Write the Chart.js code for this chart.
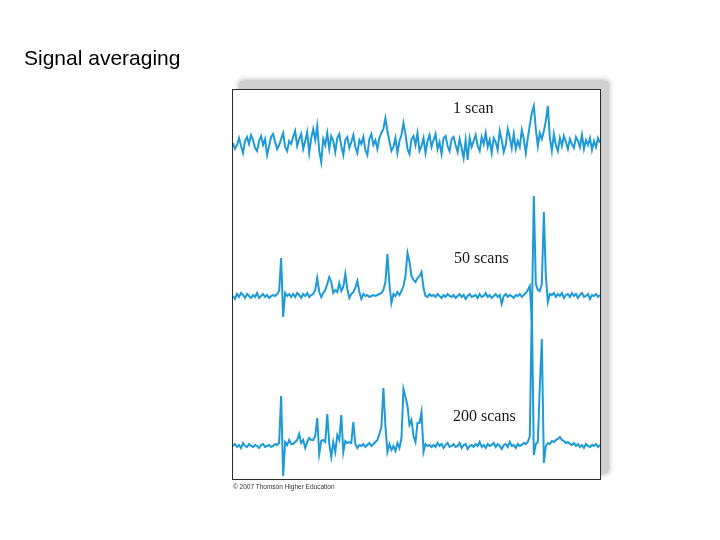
<!DOCTYPE html>
<html>
<head>
<meta charset="utf-8">
<script src="https://cdn.jsdelivr.net/npm/chart.js@4"></script>
<style>
  body { margin: 0; background: #fff; }
  #wrap { position: relative; width: 720px; height: 540px; }
  #c { position: absolute; left: 0; top: 0; }
  .txt { position: absolute; white-space: nowrap; line-height: 1; }
  .title { left: 24px; top: 46px; font: 21px "Liberation Sans", Arial, sans-serif; color: #000; }
  .scan { font: 16px "Liberation Serif", "Times New Roman", serif; color: #1a1a1a; }
  .copy { left: 233px; top: 483px; font: 6.5px "Liberation Sans", Arial, sans-serif; color: #333; }
</style>
</head>
<body>
<div id="wrap">
  <canvas id="c" width="720" height="540"></canvas>
  <div class="txt title">Signal averaging</div>
  <div class="txt scan" style="left:453px; top:99px;">1 scan</div>
  <div class="txt scan" style="left:454px; top:249px;">50 scans</div>
  <div class="txt scan" style="left:453px; top:407px;">200 scans</div>
  <div class="txt copy">© 2007 Thomson Higher Education</div>
</div>
<script>
// signal height above baseline, one value per channel ---------------------
const scan1 = [
  0, -6, -2, 5, -3, -10, 2, 6, -1, 8,
  3, -5, -8, 2, 7, -2, 4, -12, -3, 6,
  9, 1, -6, -2, 4, 10, -4, -8, 2, -1,
  6, 12, -3, 4, 9, -6, 2, 11, -10, 5,
  14, 3, 17, -8, -19, 4, -2, 10, -6, 7,
  2, -9, 5, 9, -3, -12, 3, 6, -5, 1,
  8, -4, -10, 3, -1, 6, -7, -12, 4, 9,
  -2, 3, -6, 5, 10, 14, 25, 12, 2, -8,
  -4, 5, -10, 2, 8, 20, 9, -6, -11, 4,
  7, -2, 10, -8, -3, 5, -10, 2, 8, -4,
  3, 9, -6, 1, -11, 5, 7, -3, -8, 4,
  6, -2, -9, 4, -5, -15, 3, -17, 5, -4,
  2, 8, -3, -8, 6, -1, 10, -4, 3, -10,
  5, 1, -7, 12, 3, -9, -2, 14, 6, -5,
  9, -6, 2, -4, 13, 4, -10, 5, 18, 30,
  37, 14, -3, 10, 4, 12, 22, 37, 5, -8,
  9, -2, -8, 5, -3, 7, 1, -6, 4, -1,
  -5, 6, 2, -4, 8, -6, 3, -2, 5, -7,
  2, -4, 5, 0
];

const scan50 = [
  0, -3, 2, -1, 3, 1, -2, 2, 0, -2,
  1, -1, 3, -2, 0, 2, -1, 1, -2, 0,
  1, 0, 2, 5, 38, -21, 3, 0, 2, -1,
  2, -1, 3, 1, -2, 2, 0, 3, -1, 1,
  2, 6, 18, 4, -1, 3, 6, 12, 19, 14,
  3, 6, 4, 13, 5, 9, 22, 7, -2, 2,
  4, 8, 15, 4, -3, 2, 0, 1, -1, 0,
  1, 0, 1, 2, 3, 6, 14, 42, 12, -7,
  2, 0, 4, 1, 5, 10, 20, 43, 34, 20,
  16, 14, 18, 20, 24, 8, 0, -1, 2, 0,
  1, -1, 2, 0, -2, 1, -1, 2, 0, -1,
  1, -2, 0, 2, -1, 1, -3, 0, 2, -1,
  0, 1, -2, 2, -1, 0, 3, -1, 1, -2,
  0, 2, -1, 1, -8, 0, 2, -1, 1, 0,
  -2, 1, 0, 2, -1, 1, 3, 6, 10, -25,
  100, 12, 6, 5, 12, 84, 20, -6, 2, 1,
  3, -1, 2, 0, 3, -2, 1, 2, -1, 3,
  0, 2, -2, 1, 3, -1, 0, 2, -3, 1,
  0, 2, -1, 1
];

const scan200 = [
  0, 2, -1, 1, -2, 3, 0, -1, 2, 0,
  -1, 1, 0, -2, 1, 2, -1, 0, 1, -1,
  0, 2, 1, 3, 50, -30, 4, 1, 6, 2,
  2, 4, 6, 12, 3, 6, -2, 4, 8, 6,
  6, 10, 28, -8, 5, 6, 4, 32, 2, -11,
  4, -6, 11, 6, 31, -6, 5, 3, 4, 3,
  24, 2, -2, 1, 0, 2, -1, 1, 3, 0,
  2, 4, 6, 12, 19, 58, 20, -6, 2, -4,
  0, -5, 3, -2, 8, 57, 49, 40, 21, 26,
  10, 4, 23, 23, 34, -6, 2, 0, 1, -1,
  1, -1, 3, 0, 2, -2, 1, 3, -1, 0,
  2, -1, 0, 3, -2, 1, 2, -3, 0, 1,
  -1, 2, 0, 4, -1, 1, -2, 2, 0, 1,
  3, -1, 2, 0, -3, 1, 2, -1, 4, 0,
  1, -2, 2, 0, 1, 3, 2, 4, 10, 139,
  -9, 2, 4, 60, 107, -17, 0, 3, 2, 5,
  4, 6, 7, 9, 6, 5, 3, 4, 2, 1,
  3, 0, 2, -1, 1, -2, 2, 0, -1, 1,
  0, 2, -1, 1
];

const channels = scan1.map((v, i) => i);
const traceColor = "#1e9ad6";

// box with drop shadow behind the plot -----------------------------------
const frame = {
  id: "frame",
  beforeDraw(chart) {
    const ctx = chart.ctx;
    const a = chart.chartArea;
    ctx.save();
    ctx.fillStyle = "#cfcfcf";
    ctx.shadowColor = "rgba(0,0,0,0.45)";
    ctx.shadowBlur = 6;
    ctx.fillRect(a.left + 7, a.top - 8, a.right - a.left + 1, a.bottom - a.top + 1);
    ctx.restore();
    ctx.save();
    ctx.fillStyle = "#fff";
    ctx.fillRect(a.left - 1, a.top, a.right - a.left + 2, a.bottom - a.top);
    ctx.restore();
  },
  afterDraw(chart) {
    const ctx = chart.ctx;
    const a = chart.chartArea;
    ctx.save();
    ctx.strokeStyle = "#2b2b2b";
    ctx.lineWidth = 1;
    ctx.strokeRect(a.left - 0.5, a.top + 0.5, a.right - a.left + 1, a.bottom - a.top - 1);
    ctx.restore();
  },
};

function trace(label, data, axis) {
  return {
    label: label,
    data: data,
    yAxisID: axis,
    borderColor: traceColor,
    borderWidth: 2,
    pointRadius: 0,
    tension: 0,
    fill: false,
  };
}

new Chart(document.getElementById("c"), {
  type: "line",
  data: {
    labels: channels,
    datasets: [
      trace("1 scan", scan1, "y1"),
      trace("50 scans", scan50, "y50"),
      trace("200 scans", scan200, "y200"),
    ],
  },
  options: {
    responsive: false,
    animation: false,
    layout: { padding: { left: 233, right: 120, top: 89, bottom: 60 } },
    plugins: { legend: { display: false }, tooltip: { enabled: false } },
    scales: {
      x: { display: false },
      y1: { display: false, min: -337, max: 54 },
      y50: { display: false, min: -184, max: 207 },
      y200: { display: false, min: -34, max: 357 },
    },
  },
  plugins: [frame],
});
</script>
</body>
</html>
